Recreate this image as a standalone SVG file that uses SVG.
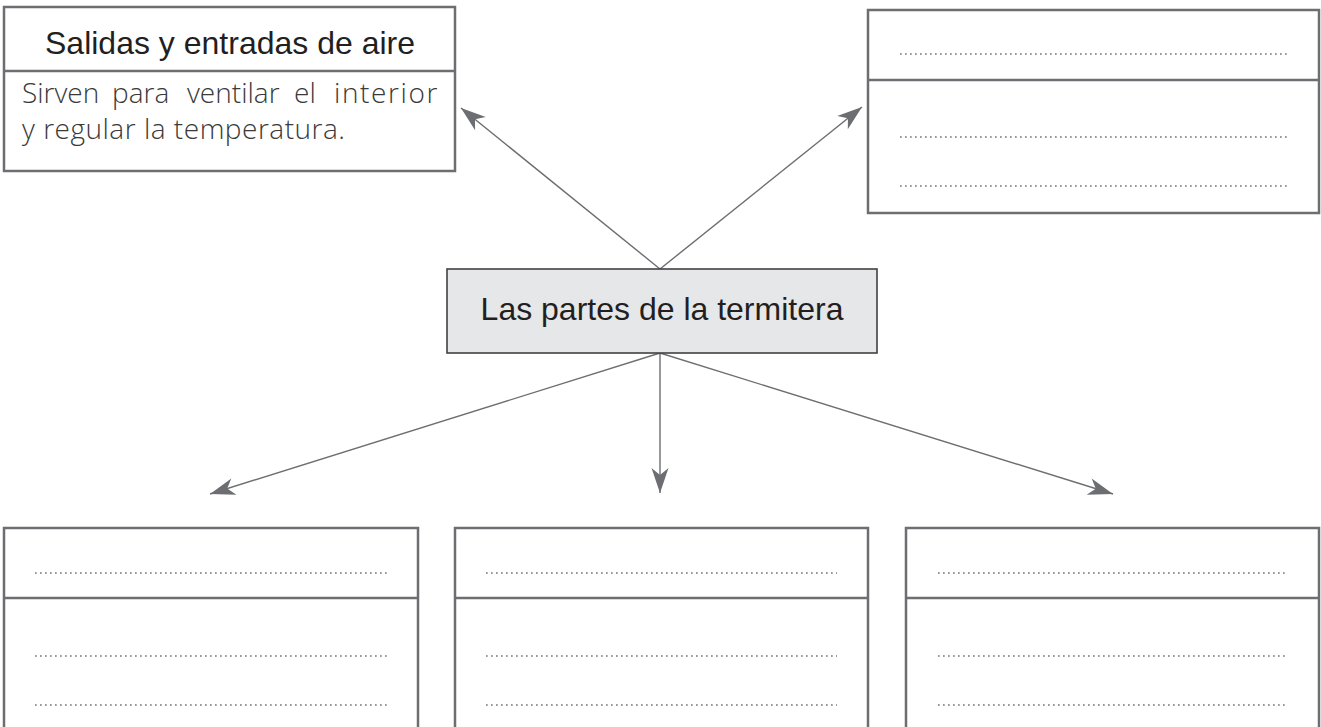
<svg xmlns="http://www.w3.org/2000/svg" width="1321" height="727" viewBox="0 0 1321 727">
<style>
.box{fill:#ffffff;stroke:#6d6e71;stroke-width:2.5}
.div{stroke:#6d6e71;stroke-width:2.5}
.dots{stroke:#77787b;stroke-width:1.7;stroke-dasharray:1.7 3.3;fill:none}
.conn{stroke:#6d6e71;stroke-width:1.4;fill:none;marker-end:url(#ah)}
.title{font-family:"Liberation Sans",Arial,sans-serif;font-size:32px;fill:#231f20}
.body{font-family:"Open Sans","Liberation Sans",sans-serif;font-weight:300;font-size:28px;fill:#3a3a3a}
</style>
<defs>
<marker id="ah" viewBox="-26 -9 28 18" refX="0" refY="0" markerWidth="28" markerHeight="18" markerUnits="userSpaceOnUse" orient="auto">
<path d="M0,0 L-25,-8.5 L-18,0 L-25,8.5 Z" fill="#6d6e71"/>
</marker>
</defs>
<rect width="1321" height="727" fill="#ffffff"/>
<g id="connectors">
<line class="conn" x1="660" y1="269" x2="461" y2="108"/>
<line class="conn" x1="660" y1="269" x2="862" y2="107"/>
<line class="conn" x1="660" y1="353" x2="210" y2="494"/>
<line class="conn" x1="660" y1="353" x2="660" y2="493"/>
<line class="conn" x1="660" y1="353" x2="1113" y2="494"/>
</g>
<g id="node-salidas">
<rect class="box" x="4" y="7" width="451" height="164"/>
<line class="div" x1="4" y1="71" x2="455" y2="71"/>
<text class="title" x="230" y="54" text-anchor="middle">Salidas y entradas de aire</text>
<text class="body" y="103"><tspan x="22">Sirven</tspan><tspan x="112">para</tspan><tspan x="187">ventilar</tspan><tspan x="294">el</tspan><tspan x="439" text-anchor="end" letter-spacing="1.6">interior</tspan></text>
<text class="body" x="22" y="139" textLength="323" lengthAdjust="spacing">y regular la temperatura.</text>
</g>
<g id="node-top-right">
<rect class="box" x="868" y="10" width="451" height="203"/>
<line class="div" x1="868" y1="80" x2="1319" y2="80"/>
<line class="dots" x1="900" y1="54" x2="1288" y2="54"/>
<line class="dots" x1="900" y1="137" x2="1288" y2="137"/>
<line class="dots" x1="900" y1="186" x2="1288" y2="186"/>
</g>
<g id="node-center">
<rect x="447" y="269" width="430" height="84" fill="#e6e7e8" stroke="#414042" stroke-width="1.6"/>
<text class="title" x="662" y="320" text-anchor="middle" font-size="32.5">Las partes de la termitera</text>
</g>
<g id="node-bottom-left">
<rect class="box" x="4" y="528" width="414" height="215"/>
<line class="div" x1="4" y1="598" x2="418" y2="598"/>
<line class="dots" x1="35" y1="573" x2="387" y2="573"/>
<line class="dots" x1="35" y1="656" x2="387" y2="656"/>
<line class="dots" x1="35" y1="705" x2="387" y2="705"/>
</g>
<g id="node-bottom-middle">
<rect class="box" x="455" y="528" width="413" height="215"/>
<line class="div" x1="455" y1="598" x2="868" y2="598"/>
<line class="dots" x1="486" y1="573" x2="837" y2="573"/>
<line class="dots" x1="486" y1="656" x2="837" y2="656"/>
<line class="dots" x1="486" y1="705" x2="837" y2="705"/>
</g>
<g id="node-bottom-right">
<rect class="box" x="906" y="528" width="413" height="215"/>
<line class="div" x1="906" y1="598" x2="1319" y2="598"/>
<line class="dots" x1="938" y1="573" x2="1288" y2="573"/>
<line class="dots" x1="938" y1="656" x2="1288" y2="656"/>
<line class="dots" x1="938" y1="705" x2="1288" y2="705"/>
</g>
</svg>
